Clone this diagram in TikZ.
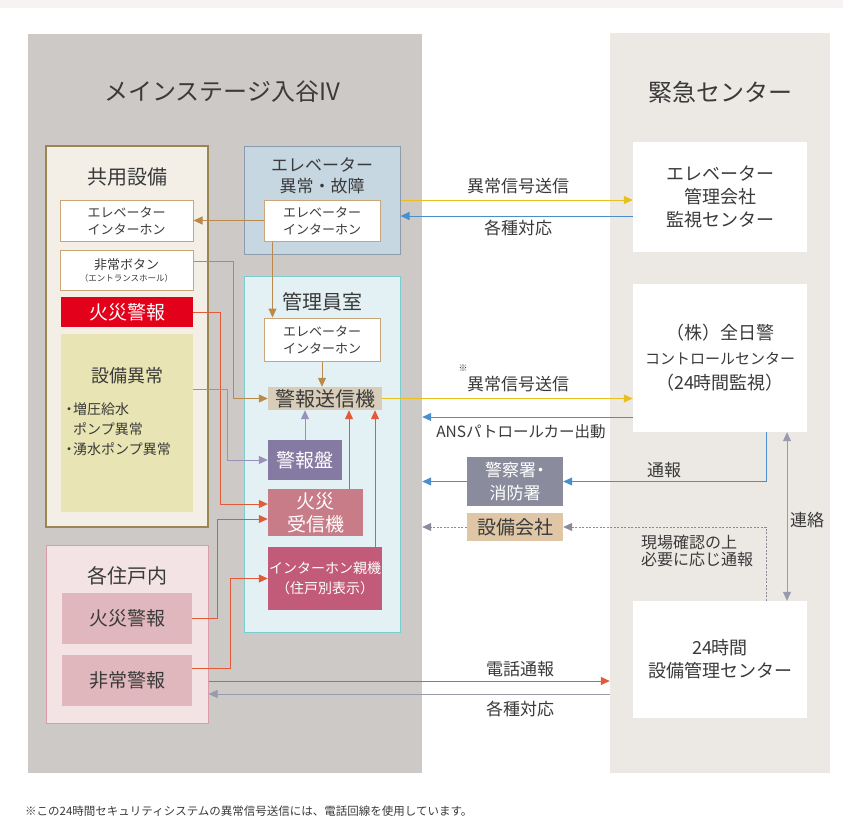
\documentclass[tikz,border=0pt]{standalone}
\usepackage{fontspec}
\setmainfont{Noto Sans CJK JP}
\usetikzlibrary{arrows.meta}

\definecolor{panelL}{HTML}{CDC9C6}
\definecolor{panelR}{HTML}{ECE9E4}
\definecolor{topband}{HTML}{F7F3F3}
\definecolor{txt}{HTML}{3A3A3A}
\definecolor{kyoyoF}{HTML}{F3EFE7}
\definecolor{kyoyoD}{HTML}{9B8553}
\definecolor{tanD}{HTML}{C8A67A}
\definecolor{tanA}{HTML}{B98A4C}
\definecolor{fireR}{HTML}{E2001A}
\definecolor{setsuY}{HTML}{E8E4B3}
\definecolor{evF}{HTML}{C7D7E2}
\definecolor{evD}{HTML}{8B9BAA}
\definecolor{kanriF}{HTML}{E4F1F4}
\definecolor{kanriD}{HTML}{7CCDD0}
\definecolor{sendF}{HTML}{D8CDB8}
\definecolor{banF}{HTML}{857BA2}
\definecolor{jushinF}{HTML}{C87C88}
\definecolor{oyaF}{HTML}{C25B79}
\definecolor{homeF}{HTML}{F3E3E5}
\definecolor{homeD}{HTML}{D99CA8}
\definecolor{homeB}{HTML}{DFB7BD}
\definecolor{policeF}{HTML}{8A8B9C}
\definecolor{kaishaF}{HTML}{DFC6A6}
\definecolor{yelA}{HTML}{E9BF1E}
\definecolor{bluA}{HTML}{4A8FCC}
\definecolor{redA}{HTML}{E25A38}
\definecolor{purA}{HTML}{9A91BA}
\definecolor{grayA}{HTML}{9A9AAE}
\definecolor{dashA}{HTML}{8A8A9A}

\begin{document}
\begin{tikzpicture}[x=1pt,y=-1pt,>={Triangle[length=9pt,width=8pt]},
  every node/.style={text=txt,inner sep=0pt},
  wbox/.style={draw=tanD,fill=white,line width=1pt},
  cline/.style={line width=1pt,->},
  f11/.style={font=\fontsize{11.5}{14}\selectfont},
  f13/.style={font=\fontsize{13}{17}\selectfont},
  f14/.style={font=\fontsize{14}{20}\selectfont},
  f16/.style={font=\fontsize{16}{16}\selectfont},
  f17/.style={font=\fontsize{17}{21}\selectfont},
  f18/.style={font=\fontsize{18}{23}\selectfont},
  f19/.style={font=\fontsize{19}{23}\selectfont},
  f20/.style={font=\fontsize{20}{24}\selectfont},
  f24/.style={font=\fontsize{24}{28}\selectfont}]

\useasboundingbox (0,0) rectangle (843,836);
\fill[topband] (0,0) rectangle (843,8);

% panels
\node (main) [fill=panelL,minimum width=394pt,minimum height=739pt] at (225,403.5) {};
\node (emg) [fill=panelR,minimum width=220pt,minimum height=740pt] at (720,403) {};
\node (mainT) [f24] at (222,92) {メインステージ入谷IV};
\node (emgT) [f24] at (720,92) {緊急センター};

%%%%%%%%%%%%%%%

\node (kyoyo) [draw=kyoyoD,fill=kyoyoF,line width=1.6pt,minimum width=162pt,minimum height=381pt] at (127,336.5) {};
\node (kyoyoT) [f20] at (127,177) {共用設備};
\node (evL) [wbox,f13,align=center,minimum width=133pt,minimum height=41pt] at (126.5,220.5) {エレベーター\\インターホン};
\node (hijo) [wbox,align=center,minimum width=133pt,minimum height=40pt] at (126.5,270) {{\fontsize{13}{16}\selectfont 非常ボタン}\\{\fontsize{8.5}{16}\selectfont （エントランスホール）}};
\node (fireA) [fill=fireR,text=white,f19,minimum width=132pt,minimum height=30pt] at (127,312) {火災警報};
\node (setsu) [fill=setsuY,minimum width=132pt,minimum height=178pt] at (127,423) {};
\node (setsuT) [f18] at (127,376) {設備異常};
\node (setsuL) [f14,align=left,anchor=west] at (65,429) {\makebox[8pt]{・}増圧給水\\\hspace{8pt}ポンプ異常\\\makebox[8pt]{・}湧水ポンプ異常};

\node (evbox) [draw=evD,fill=evF,line width=1pt,minimum width=156pt,minimum height=108pt] at (322,200) {};
\node (evT) [f17,align=center] at (322,176) {エレベーター\\異常・故障};
\node (evB) [wbox,f13,align=center,minimum width=116pt,minimum height=41pt] at (322,220.5) {エレベーター\\インターホン};

\node (kanri) [draw=kanriD,fill=kanriF,line width=1pt,minimum width=156pt,minimum height=356pt] at (322,454) {};
\node (kanriT) [f20] at (322,302) {管理員室};
\node (evC) [wbox,f13,align=center,minimum width=116pt,minimum height=43pt] at (322,339.5) {エレベーター\\インターホン};
\node (send) [fill=sendF,f20,minimum width=114pt,minimum height=23pt] at (325,398.5) {警報送信機};
\node (ban) [fill=banF,text=white,f19,minimum width=74pt,minimum height=40pt] at (305,460) {警報盤};
\node (jushin) [fill=jushinF,text=white,f19,align=center,minimum width=95pt,minimum height=47pt] at (315.5,512.5) {火災\\受信機};
\node (oya) [fill=oyaF,text=white,f14,align=center,minimum width=114pt,minimum height=63pt] at (325,578.5) {インターホン親機\\（住戸別表示）};

\node (home) [draw=homeD,fill=homeF,line width=1pt,minimum width=162pt,minimum height=178pt] at (127,634) {};
\node (homeT) [f20] at (127,576) {各住戸内};
\node (fireB) [fill=homeB,f19,minimum width=130pt,minimum height=51pt] at (127,618.5) {火災警報};
\node (hijoB) [fill=homeB,f19,minimum width=130pt,minimum height=51pt] at (127,680.5) {非常警報};

%%%%%%%%%%%%%%%

\node (evctr) [fill=white,f18,align=center,minimum width=174pt,minimum height=110pt] at (720,197) {エレベーター\\管理会社\\監視センター};
\node (zen) [fill=white,align=center,font=\fontsize{18}{25}\selectfont,minimum width=174pt,minimum height=148pt] at (720,358) {（株）全日警\\{\fontsize{15}{25}\selectfont コントロールセンター}\\（24時間監視）};
\node (kikan) [fill=white,f18,align=center,minimum width=174pt,minimum height=117pt] at (720,659.5) {24時間\\設備管理センター};

\node (police) [fill=policeF,text=white,font=\fontsize{17}{23}\selectfont,align=center,minimum width=96pt,minimum height=49pt] at (515,481.5) {警察署\makebox[9pt]{・}\\消防署};
\node (kaisha) [fill=kaishaF,f19,minimum width=96pt,minimum height=28pt] at (515,527) {設備会社};

%%%%%%%%%%%%%%%

\draw[tanA,cline] (evB.west) -- (evL.east);
\draw[tanA,cline] ([xshift=9pt]evB.south west) -- ([xshift=9pt]evC.north west);
\draw[tanA,cline] (evC.south) -- (evC.south |- send.north);
\draw[tanA,cline] ([yshift=9pt]hijo.east) -| ([xshift=-34pt]send.west) -- (send.west);

\draw[redA,cline] (fireA.east) -| ([xshift=-47pt,yshift=8.5pt]jushin.west) -- ([yshift=8.5pt]jushin.west);
\draw[purA,cline] ([yshift=34pt]setsu.east) -| ([xshift=-40pt]ban.west) -- (ban.west);
\draw[purA,cline] (ban.north) -- (ban.north |- send.south);
\coordinate (j1) at ([xshift=33.5pt]jushin.north);
\draw[redA,cline] (j1) -- (j1 |- send.south);
\coordinate (o1) at ([xshift=50pt]oya.north);
\draw[redA,cline] (o1) -- (o1 |- send.south);
\draw[redA,cline] (fireB.east) -| ([xshift=-50pt,yshift=-6.5pt]jushin.west) -- ([yshift=-6.5pt]jushin.west);
\draw[redA,cline] ([yshift=12.5pt]hijoB.east) -| ([xshift=-37pt]oya.west) -- (oya.west);

\coordinate (h1) at ([yshift=-47pt]home.east);
\draw[redA,cline] (h1) -- (h1 -| emg.west);
\coordinate (h2) at ([yshift=-60pt]home.east);
\draw[grayA,cline] (h2 -| emg.west) -- (h2);

\draw[yelA,cline] (evbox.east) -- (evbox.east -| evctr.west);
\coordinate (e1) at ([yshift=-16pt]evbox.east);
\draw[bluA,cline] (e1 -| evctr.west) -- (e1);
\draw[yelA,cline] (send.east) -- (send.east -| zen.west);
\coordinate (z1) at ([yshift=-59pt]zen.west);
\draw[bluA,cline] (z1) -- (z1 -| main.east);
\draw[bluA,cline] ([xshift=46pt]zen.south) |- (police.east);
\draw[bluA,cline] (police.west) -- (police.west -| main.east);
\draw[dashA,cline,line width=0.8pt,dash pattern=on 2pt off 1.5pt] ([xshift=46pt]kikan.north) |- (kaisha.east);
\draw[dashA,cline,line width=0.8pt,dash pattern=on 2pt off 1.5pt] (kaisha.west) -- (kaisha.west -| main.east);
\draw[grayA,line width=1pt,<->] ([xshift=67pt]zen.south) -- ([xshift=67pt]kikan.north);

%%%%%%%%%%%%%%%

\node (l1) [f17] at (518,186) {異常信号送信};
\node (l2) [f17] at (518,228) {各種対応};
\node (l3) [f17] at (518,384) {異常信号送信};
\node (l3m) [font=\fontsize{9}{9}\selectfont] at (463,368) {※};
\node (l4) [font=\fontsize{15.5}{18}\selectfont] at (521,432) {ANSパトロールカー出動};
\node (l5) [f17] at (664,470) {通報};
\node (l6) [font=\fontsize{16}{17}\selectfont,align=left,anchor=west] at (641,551) {現場確認の上\\必要に応じ通報};
\node (l7) [f17] at (807,520) {連絡};
\node (l8) [f17] at (520,669) {電話通報};
\node (l9) [f17] at (520,709) {各種対応};

\node (note) [f11,anchor=west] at (25,811) {※この24時間セキュリティシステムの異常信号送信には、電話回線を使用しています。};

\end{tikzpicture}
\end{document}
